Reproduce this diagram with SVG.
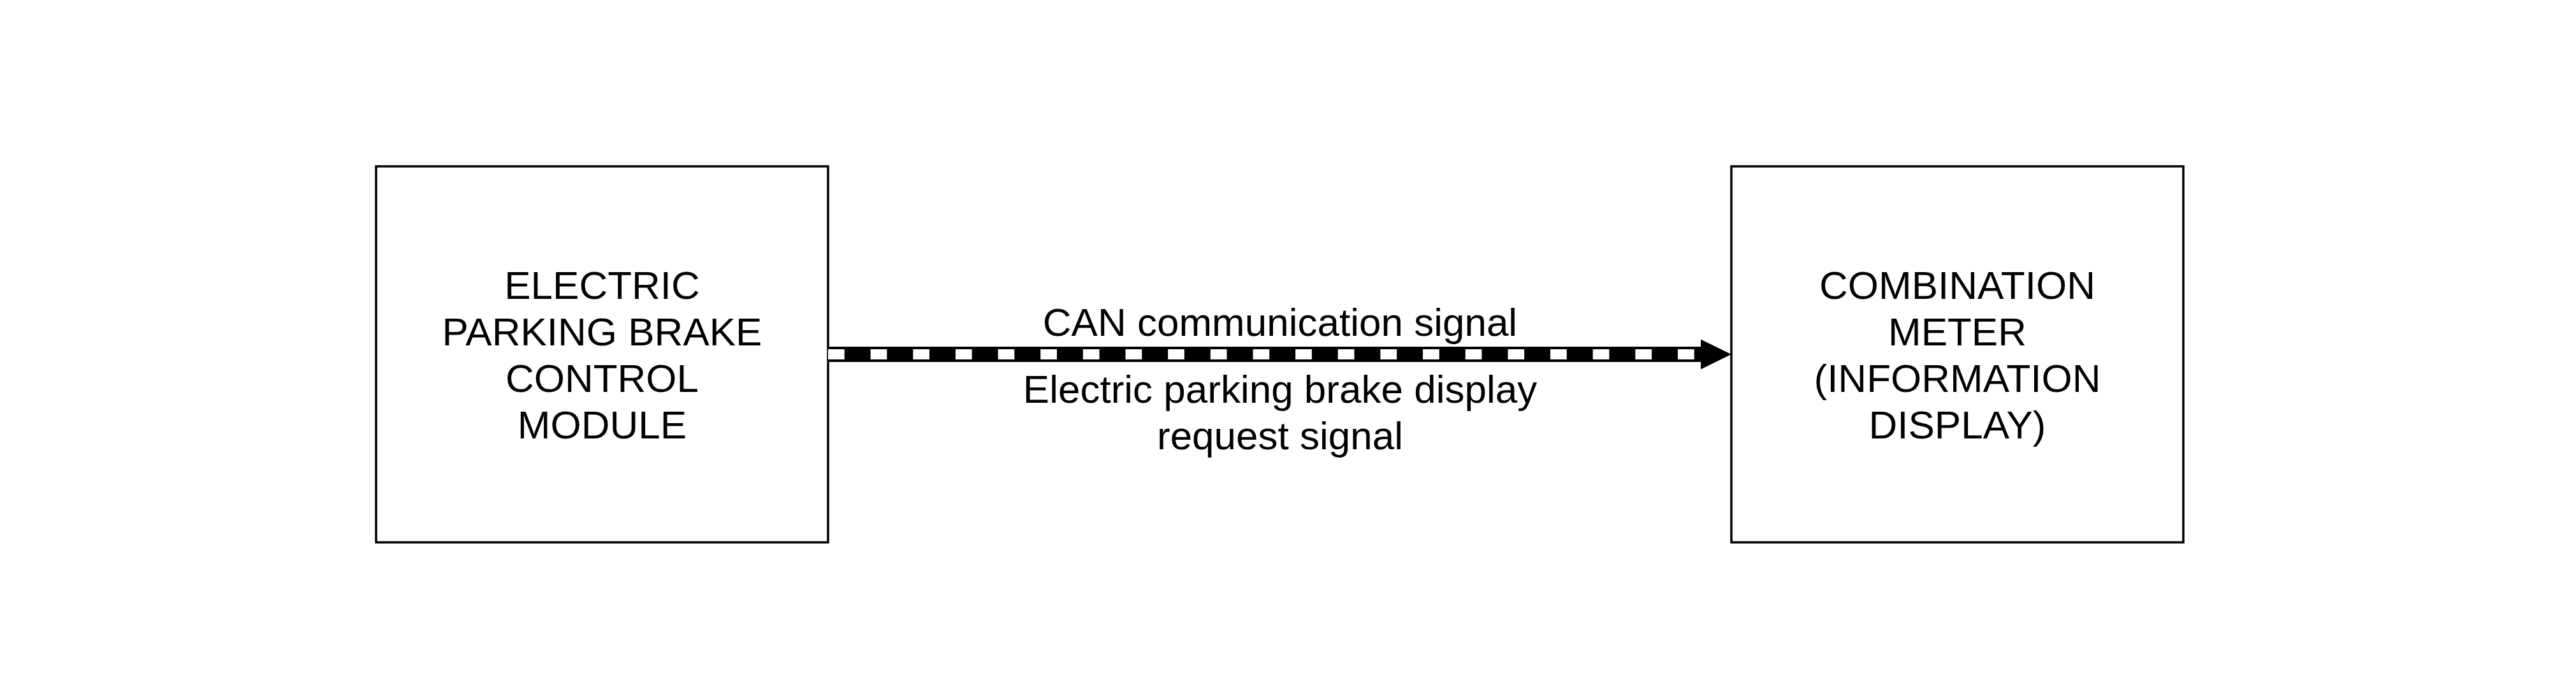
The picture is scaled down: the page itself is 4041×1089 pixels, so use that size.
<svg xmlns="http://www.w3.org/2000/svg" width="4041" height="1089" viewBox="0 0 4041 1089">
  <style>
    .box { fill: #ffffff; stroke: #000000; stroke-width: 3.5; }
    .lbl { font-family: "Liberation Sans", Arial, Helvetica, sans-serif; font-size: 62px; fill: #000000; text-anchor: middle; }
    .can-base { fill: none; stroke: #000000; stroke-width: 24; stroke-linecap: butt; }
    .can-dash { fill: none; stroke: #ffffff; stroke-width: 16; stroke-linecap: butt; stroke-dasharray: 25.7 40.95; }
  </style>
  <defs>
    <marker id="arrow" markerUnits="userSpaceOnUse" markerWidth="48" markerHeight="47" viewBox="0 0 48 47" refX="0" refY="23.5" orient="auto">
      <path d="M0,0 L48,23.5 L0,47 Z" fill="#000000"/>
    </marker>
  </defs>
  <rect x="0" y="0" width="4041" height="1089" fill="#ffffff"/>

  <g id="node-epb">
    <rect class="box" x="590" y="261" width="709" height="590"/>
    <text class="lbl" x="944.5" y="469">ELECTRIC</text>
    <text class="lbl" x="944.5" y="542">PARKING BRAKE</text>
    <text class="lbl" x="944.5" y="615">CONTROL</text>
    <text class="lbl" x="944.5" y="688">MODULE</text>
  </g>

  <g id="node-meter">
    <rect class="box" x="2716" y="261" width="709" height="590"/>
    <text class="lbl" x="3070.5" y="469">COMBINATION</text>
    <text class="lbl" x="3070.5" y="542">METER</text>
    <text class="lbl" x="3070.5" y="615">(INFORMATION</text>
    <text class="lbl" x="3070.5" y="688">DISPLAY)</text>
  </g>

  <g id="connectors">
    <path class="can-base" d="M1299,556 L2668,556" marker-end="url(#arrow)"/>
    <path class="can-dash" d="M1299,556 L2662,556"/>
    <text class="lbl" x="2008" y="527">CAN communication signal</text>
    <text class="lbl" x="2008" y="632">Electric parking brake display</text>
    <text class="lbl" x="2008" y="705">request signal</text>
  </g>
</svg>
